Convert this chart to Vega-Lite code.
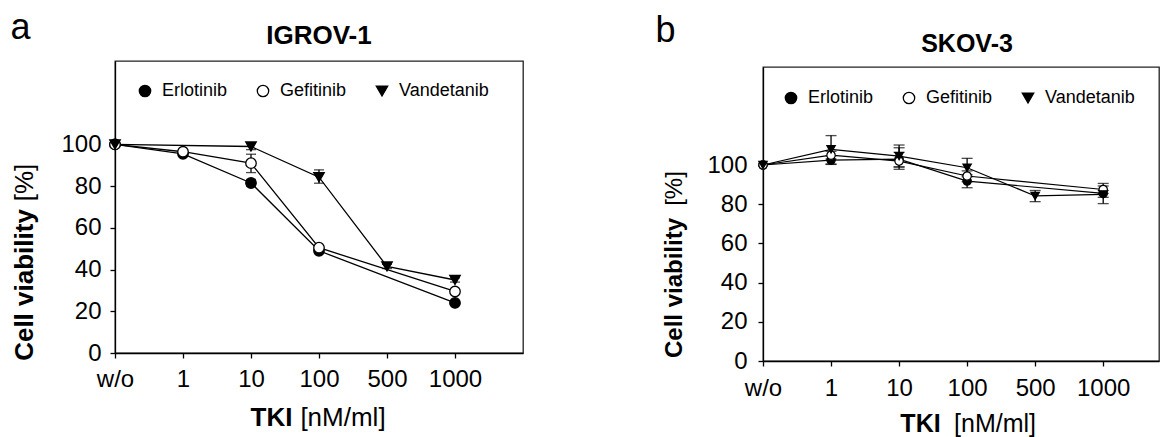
{
  "$schema": "https://vega.github.io/schema/vega-lite/v6.json",
  "background": "white",
  "padding": {"left": 10, "top": 10, "right": 0, "bottom": 0},
  "config": {
    "font": "Liberation Sans",
    "view": {"stroke": "#222", "strokeWidth": 1.3},
    "axis": {"grid": false, "domainColor": "black", "domainWidth": 1.3, "tickColor": "black", "tickWidth": 1.3, "tickSize": 5, "labelColor": "black", "labelFontSize": 24, "labelFont": "Liberation Sans", "titleColor": "black", "titleFont": "Liberation Sans", "labelAngle": 0}
  },
  "datasets": {
    "igrov": [
      {"drug": "Erlotinib", "dose": "w/o", "viability": 100},
      {"drug": "Erlotinib", "dose": "1", "viability": 95.5, "lo": 94.5, "hi": 96.5},
      {"drug": "Erlotinib", "dose": "10", "viability": 81.5, "lo": 80, "hi": 83.2},
      {"drug": "Erlotinib", "dose": "100", "viability": 49, "lo": 48, "hi": 50},
      {"drug": "Erlotinib", "dose": "1000", "viability": 24, "lo": 23, "hi": 25},
      {"drug": "Gefitinib", "dose": "w/o", "viability": 100},
      {"drug": "Gefitinib", "dose": "1", "viability": 96.5, "lo": 95.5, "hi": 97.5},
      {"drug": "Gefitinib", "dose": "10", "viability": 91, "lo": 86.5, "hi": 95.3},
      {"drug": "Gefitinib", "dose": "100", "viability": 50.5, "lo": 49.5, "hi": 51.5},
      {"drug": "Gefitinib", "dose": "1000", "viability": 29.5, "lo": 28.5, "hi": 30.5},
      {"drug": "Vandetanib", "dose": "w/o", "viability": 100},
      {"drug": "Vandetanib", "dose": "10", "viability": 99, "lo": 97.5, "hi": 100.5},
      {"drug": "Vandetanib", "dose": "100", "viability": 84.3, "lo": 81.4, "hi": 87.8},
      {"drug": "Vandetanib", "dose": "500", "viability": 41.5, "lo": 40.5, "hi": 42.5},
      {"drug": "Vandetanib", "dose": "1000", "viability": 35, "lo": 34, "hi": 36}
    ],
    "skov": [
      {"drug": "Erlotinib", "dose": "w/o", "viability": 100},
      {"drug": "Erlotinib", "dose": "1", "viability": 102.5, "lo": 100.3, "hi": 104.7},
      {"drug": "Erlotinib", "dose": "10", "viability": 103, "lo": 97.8, "hi": 108.8},
      {"drug": "Erlotinib", "dose": "100", "viability": 91.8, "lo": 88.4, "hi": 95},
      {"drug": "Erlotinib", "dose": "1000", "viability": 85.5, "lo": 80.3, "hi": 90.6},
      {"drug": "Gefitinib", "dose": "w/o", "viability": 100},
      {"drug": "Gefitinib", "dose": "1", "viability": 105, "lo": 103, "hi": 107},
      {"drug": "Gefitinib", "dose": "10", "viability": 102, "lo": 99, "hi": 106.5},
      {"drug": "Gefitinib", "dose": "100", "viability": 94.4, "lo": 91.5, "hi": 97},
      {"drug": "Gefitinib", "dose": "1000", "viability": 87.5, "lo": 85.5, "hi": 89.3},
      {"drug": "Vandetanib", "dose": "w/o", "viability": 100},
      {"drug": "Vandetanib", "dose": "1", "viability": 108, "lo": 100.5, "hi": 115},
      {"drug": "Vandetanib", "dose": "10", "viability": 104.5, "lo": 99, "hi": 110.2},
      {"drug": "Vandetanib", "dose": "100", "viability": 98.6, "lo": 94, "hi": 103.4},
      {"drug": "Vandetanib", "dose": "500", "viability": 84.2, "lo": 81.3, "hi": 87},
      {"drug": "Vandetanib", "dose": "1000", "viability": 85, "lo": 83.5, "hi": 87}
    ]
  },
  "hconcat": [
    {
      "title": {"text": "a", "anchor": "start", "frame": "group", "fontSize": 36, "fontWeight": "normal", "color": "black", "dx": -104.5, "dy": 53, "baseline": "alphabetic", "offset": 0},
      "resolve": {"scale": {"shape": "independent", "fill": "independent"}, "legend": {"shape": "independent", "fill": "independent"}},
      "vconcat": [
        {
          "width": 408,
          "height": 292,
          "title": {"text": "IGROV-1", "fontSize": 26, "fontWeight": "bold", "color": "black", "baseline": "alphabetic", "offset": -9},
          "data": {"name": "igrov"},
          "resolve": {"axis": {"x": "independent", "y": "independent"}},
          "layer": [
            {
              "mark": {"type": "line", "color": "black", "strokeWidth": 1.3},
              "encoding": {
                "x": {"field": "dose", "type": "ordinal", "sort": null, "scale": {"type": "point", "domain": ["w/o", "1", "10", "100", "500", "1000"], "padding": 0.5, "align": 0}, "axis": {"title": "TKI", "titleFontWeight": "bold", "titleFontSize": 26, "titleX": 156, "titleY": 72, "titleAlign": "center", "titleBaseline": "alphabetic", "labelPadding": 9}},
                "y": {"field": "viability", "type": "quantitative", "scale": {"domain": [0, 140], "nice": false}, "axis": {"values": [0, 20, 40, 60, 80, 100], "title": "Cell viability", "titleFontWeight": "bold", "titleFontSize": 26, "titleX": -82.5, "titleY": 223.5, "titleAlign": "center", "titleBaseline": "alphabetic", "titleAngle": -90, "labelPadding": 9}},
                "detail": {"field": "drug", "type": "nominal"}
              }
            },
            {
              "mark": {"type": "rule", "color": "black", "strokeWidth": 1.3},
              "encoding": {
                "x": {"field": "dose", "type": "ordinal", "sort": null, "scale": {"type": "point", "domain": ["w/o", "1", "10", "100", "500", "1000"], "padding": 0.5, "align": 0}, "axis": {"orient": "bottom", "title": "[nM/ml]", "titleFontWeight": "normal", "titleFontSize": 26, "titleX": 227.5, "titleY": 72, "titleAlign": "center", "titleBaseline": "alphabetic", "labels": false, "ticks": false, "domain": false}},
                "y": {"field": "lo", "type": "quantitative", "scale": {"domain": [0, 140], "nice": false}, "axis": {"orient": "left", "title": "[%]", "titleFontWeight": "normal", "titleFontSize": 26, "titleX": -82.5, "titleY": 121, "titleAlign": "center", "titleBaseline": "alphabetic", "titleAngle": -90, "labels": false, "ticks": false, "domain": false}},
                "y2": {"field": "hi"}
              }
            },
            {
              "mark": {"type": "tick", "color": "black", "thickness": 1.3, "size": 10},
              "encoding": {
                "x": {"field": "dose", "type": "ordinal", "sort": null, "scale": {"type": "point", "domain": ["w/o", "1", "10", "100", "500", "1000"], "padding": 0.5, "align": 0}, "axis": null},
                "y": {"field": "lo", "type": "quantitative", "scale": {"domain": [0, 140], "nice": false}, "axis": null}
              }
            },
            {
              "mark": {"type": "tick", "color": "black", "thickness": 1.3, "size": 10},
              "encoding": {
                "x": {"field": "dose", "type": "ordinal", "sort": null, "scale": {"type": "point", "domain": ["w/o", "1", "10", "100", "500", "1000"], "padding": 0.5, "align": 0}, "axis": null},
                "y": {"field": "hi", "type": "quantitative", "scale": {"domain": [0, 140], "nice": false}, "axis": null}
              }
            },
            {
              "mark": {"type": "point", "filled": true, "stroke": "black", "strokeWidth": 1.3, "opacity": 1, "size": 110},
              "encoding": {
                "x": {"field": "dose", "type": "ordinal", "sort": null, "scale": {"type": "point", "domain": ["w/o", "1", "10", "100", "500", "1000"], "padding": 0.5, "align": 0}, "axis": null},
                "y": {"field": "viability", "type": "quantitative", "scale": {"domain": [0, 140], "nice": false}, "axis": null},
                "shape": {"field": "drug", "type": "nominal", "scale": {"domain": ["Erlotinib", "Gefitinib", "Vandetanib"], "range": ["circle", "circle", "triangle-down"]}, "legend": {"orient": "none", "legendX": 21, "legendY": 21, "direction": "horizontal", "title": null, "labelFontSize": 18, "labelColor": "black", "labelFont": "Liberation Sans", "labelOffset": 8, "symbolSize": 130, "columnPadding": 26, "symbolStrokeColor": "black", "symbolStrokeWidth": 1.3, "symbolOpacity": 1, "padding": 0, "encode": {"symbols": {"update": {"stroke": {"value": "black"}, "strokeWidth": {"value": 1.3}}}}}},
                "fill": {"field": "drug", "type": "nominal", "scale": {"domain": ["Erlotinib", "Gefitinib", "Vandetanib"], "range": ["black", "white", "black"]}, "legend": {"orient": "none", "legendX": 21, "legendY": 21, "direction": "horizontal", "title": null, "labelFontSize": 18, "labelColor": "black", "labelFont": "Liberation Sans", "labelOffset": 8, "symbolSize": 130, "columnPadding": 26, "symbolStrokeColor": "black", "symbolStrokeWidth": 1.3, "symbolOpacity": 1, "padding": 0, "encode": {"symbols": {"update": {"stroke": {"value": "black"}, "strokeWidth": {"value": 1.3}}}}}}
              }
            }
          ]
        }
      ]
    },
    {
      "title": {"text": "b", "anchor": "start", "frame": "group", "fontSize": 36, "fontWeight": "normal", "color": "black", "dx": -107.5, "dy": 47, "baseline": "alphabetic", "offset": 0},
      "spacing": 0,
      "bounds": "flush",
      "resolve": {"scale": {"shape": "independent", "fill": "independent"}, "legend": {"shape": "independent", "fill": "independent"}},
      "vconcat": [
        {
          "width": 396,
          "height": 6,
          "data": {"values": [{"k": 1}]},
          "mark": {"type": "point", "opacity": 0},
          "encoding": {},
          "view": {"stroke": null}
        },
        {
          "width": 396,
          "height": 294,
          "title": {"text": "SKOV-3", "fontSize": 25, "fontWeight": "bold", "color": "black", "baseline": "alphabetic", "offset": -10, "dx": 6},
          "data": {"name": "skov"},
          "resolve": {"axis": {"x": "independent", "y": "independent"}},
          "layer": [
            {
              "mark": {"type": "line", "color": "black", "strokeWidth": 1.2},
              "encoding": {
                "x": {"field": "dose", "type": "ordinal", "sort": null, "scale": {"type": "point", "domain": ["w/o", "1", "10", "100", "500", "1000"], "padding": 0.41, "align": 0}, "axis": {"title": "TKI", "titleFontWeight": "bold", "titleFontSize": 25, "titleX": 157, "titleY": 70, "titleAlign": "center", "titleBaseline": "alphabetic", "labelPadding": 10}},
                "y": {"field": "viability", "type": "quantitative", "scale": {"domain": [0, 150], "nice": false}, "axis": {"values": [0, 20, 40, 60, 80, 100], "title": "Cell viability", "titleFontWeight": "bold", "titleFontSize": 24, "titleX": -81.5, "titleY": 220.5, "titleAlign": "center", "titleBaseline": "alphabetic", "titleAngle": -90, "labelPadding": 11}},
                "detail": {"field": "drug", "type": "nominal"}
              }
            },
            {
              "mark": {"type": "rule", "color": "black", "strokeWidth": 1.3},
              "encoding": {
                "x": {"field": "dose", "type": "ordinal", "sort": null, "scale": {"type": "point", "domain": ["w/o", "1", "10", "100", "500", "1000"], "padding": 0.41, "align": 0}, "axis": {"orient": "bottom", "title": "[nM/ml]", "titleFontWeight": "normal", "titleFontSize": 25, "titleX": 231.5, "titleY": 70, "titleAlign": "center", "titleBaseline": "alphabetic", "labels": false, "ticks": false, "domain": false}},
                "y": {"field": "lo", "type": "quantitative", "scale": {"domain": [0, 150], "nice": false}, "axis": {"orient": "left", "title": "[%]", "titleFontWeight": "normal", "titleFontSize": 24, "titleX": -81.5, "titleY": 121, "titleAlign": "center", "titleBaseline": "alphabetic", "titleAngle": -90, "labels": false, "ticks": false, "domain": false}},
                "y2": {"field": "hi"}
              }
            },
            {
              "mark": {"type": "tick", "color": "black", "thickness": 1.3, "size": 11},
              "encoding": {
                "x": {"field": "dose", "type": "ordinal", "sort": null, "scale": {"type": "point", "domain": ["w/o", "1", "10", "100", "500", "1000"], "padding": 0.41, "align": 0}, "axis": null},
                "y": {"field": "lo", "type": "quantitative", "scale": {"domain": [0, 150], "nice": false}, "axis": null}
              }
            },
            {
              "mark": {"type": "tick", "color": "black", "thickness": 1.3, "size": 11},
              "encoding": {
                "x": {"field": "dose", "type": "ordinal", "sort": null, "scale": {"type": "point", "domain": ["w/o", "1", "10", "100", "500", "1000"], "padding": 0.41, "align": 0}, "axis": null},
                "y": {"field": "hi", "type": "quantitative", "scale": {"domain": [0, 150], "nice": false}, "axis": null}
              }
            },
            {
              "mark": {"type": "point", "filled": true, "stroke": "black", "strokeWidth": 1.2, "opacity": 1, "size": 70},
              "encoding": {
                "x": {"field": "dose", "type": "ordinal", "sort": null, "scale": {"type": "point", "domain": ["w/o", "1", "10", "100", "500", "1000"], "padding": 0.41, "align": 0}, "axis": null},
                "y": {"field": "viability", "type": "quantitative", "scale": {"domain": [0, 150], "nice": false}, "axis": null},
                "shape": {"field": "drug", "type": "nominal", "scale": {"domain": ["Erlotinib", "Gefitinib", "Vandetanib"], "range": ["circle", "circle", "triangle-down"]}, "legend": {"orient": "none", "legendX": 19, "legendY": 22, "direction": "horizontal", "title": null, "labelFontSize": 18, "labelColor": "black", "labelFont": "Liberation Sans", "labelOffset": 8, "symbolSize": 130, "columnPadding": 26, "symbolStrokeColor": "black", "symbolStrokeWidth": 1.3, "symbolOpacity": 1, "padding": 0, "encode": {"symbols": {"update": {"stroke": {"value": "black"}, "strokeWidth": {"value": 1.3}}}}}},
                "fill": {"field": "drug", "type": "nominal", "scale": {"domain": ["Erlotinib", "Gefitinib", "Vandetanib"], "range": ["black", "white", "black"]}, "legend": {"orient": "none", "legendX": 19, "legendY": 22, "direction": "horizontal", "title": null, "labelFontSize": 18, "labelColor": "black", "labelFont": "Liberation Sans", "labelOffset": 8, "symbolSize": 130, "columnPadding": 26, "symbolStrokeColor": "black", "symbolStrokeWidth": 1.3, "symbolOpacity": 1, "padding": 0, "encode": {"symbols": {"update": {"stroke": {"value": "black"}, "strokeWidth": {"value": 1.3}}}}}}
              }
            }
          ]
        }
      ]
    }
  ],
  "spacing": 648,
  "bounds": "flush",
  "resolve": {"scale": {"shape": "independent", "fill": "independent"}, "legend": {"shape": "independent", "fill": "independent"}}
}
